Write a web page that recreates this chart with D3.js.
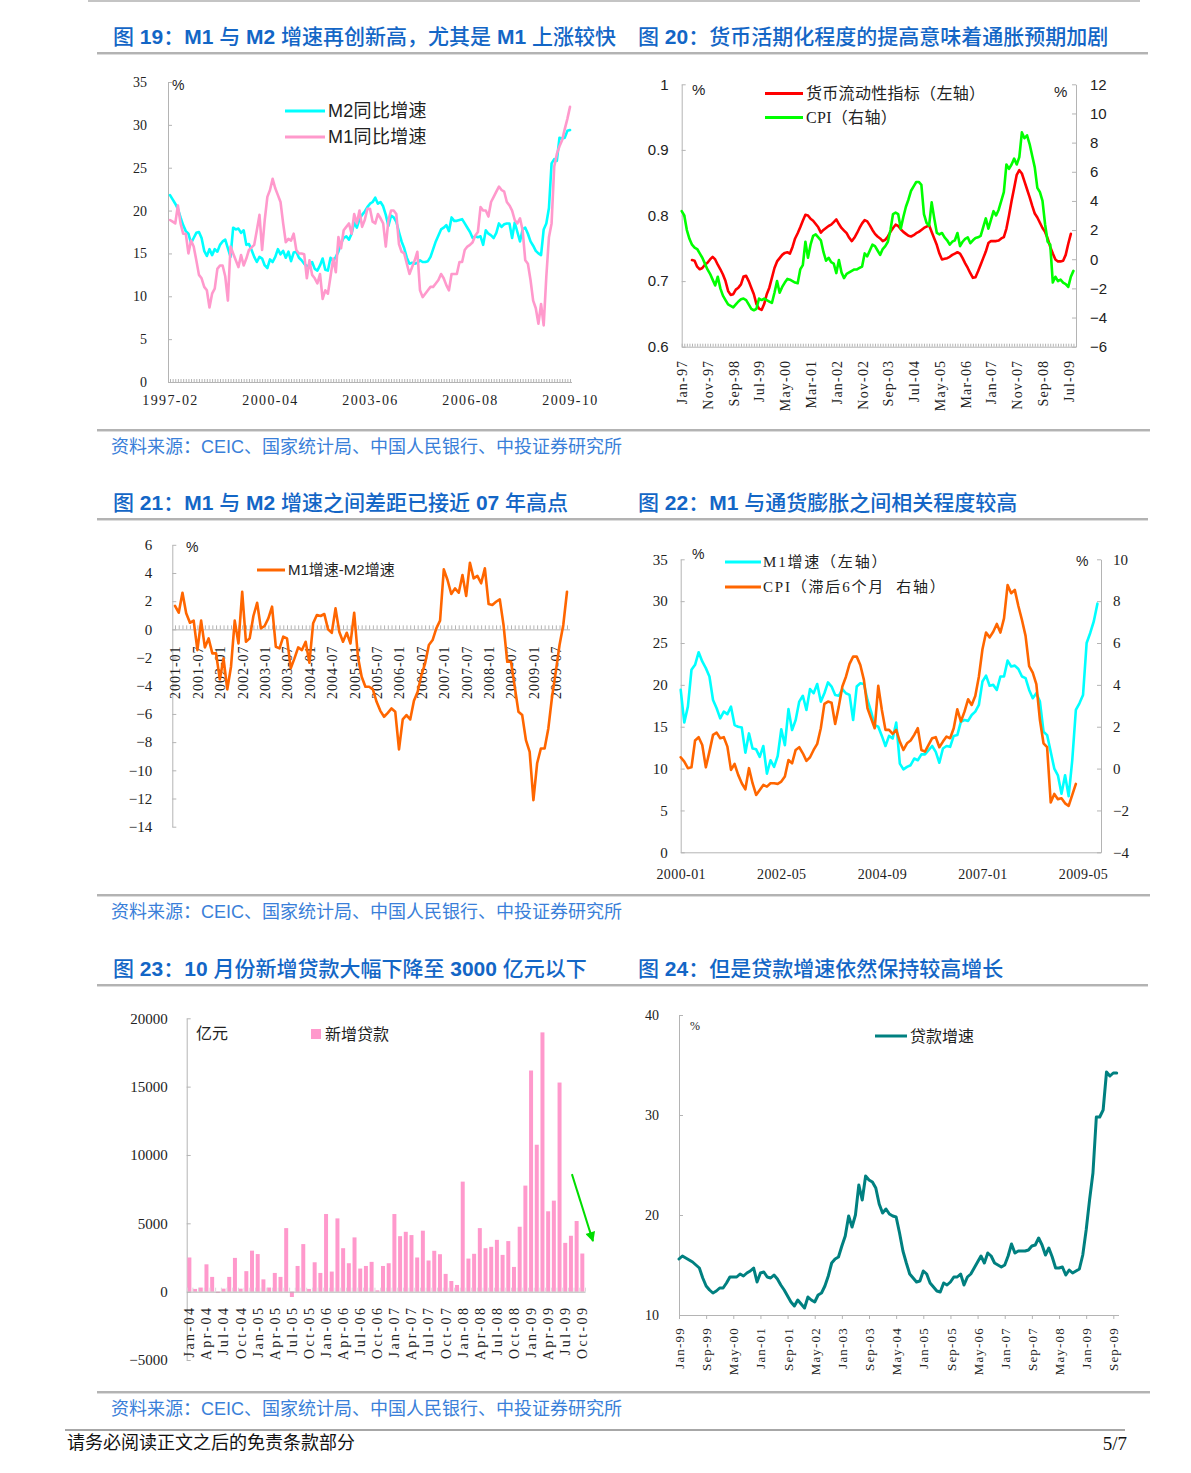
<!DOCTYPE html>
<html><head><meta charset="utf-8">
<script src="https://cdn.jsdelivr.net/npm/d3@7"></script>
<style>
html,body{margin:0;padding:0;background:#fff;}
svg{display:block;}
text{white-space:pre;}
</style></head><body>
<svg id="page" width="1191" height="1473"></svg>
<script>
// ---------------- DATA ----------------
// Chart 19: M1 / M2 YoY growth, monthly 1997-02 .. 2009-10
const c19XLabels = ["1997-02","2000-04","2003-06","2006-08","2009-10"];
const c19XLabelIdx = [0,38,76,114,152];
const c19YTicks = [0,5,10,15,20,25,30,35];
const c19M2 = [21.8,21.3,20.8,20.2,19.2,18.3,17.6,17.3,16.2,16.8,
  17.4,17.5,16.8,15.3,14.7,15.5,14.8,15.5,15.2,16.0,
  16.4,16.6,15.6,14.6,18.0,17.8,17.9,17.4,17.7,16.0,
  16.1,15.4,14.6,14.0,14.6,14.4,13.6,13.3,14.3,14.0,
  14.6,15.5,14.9,15.3,14.5,15.2,14.1,15.1,15.2,14.5,
  14.2,13.8,13.5,13.6,14.0,13.2,13.0,13.6,14.4,13.1,
  13.0,14.5,14.1,14.6,15.2,16.2,16.8,17.0,16.6,17.3,
  18.6,18.0,19.0,19.5,19.9,20.4,20.8,21.0,21.5,20.8,
  21.0,20.5,19.5,18.2,19.4,19.2,18.7,17.5,16.4,15.6,
  14.5,13.8,13.9,13.8,13.9,14.2,14.0,14.0,14.1,14.6,
  15.5,16.4,17.1,17.8,18.0,18.3,17.6,19.2,18.8,18.8,
  18.9,19.0,18.5,18.0,17.5,16.8,17.0,16.9,17.0,16.0,
  17.7,17.3,17.1,16.8,17.4,18.5,18.1,18.4,18.5,18.5,
  16.8,18.6,17.5,16.4,17.8,18.0,17.3,16.4,15.9,15.3,
  15.0,14.8,17.8,18.5,20.3,25.5,26.0,25.8,28.5,28.4,
  28.5,29.3,29.4];
const c19M1 = [18.9,18.7,18.5,20.6,18.5,17.3,17.3,15.0,16.5,15.8,
  14.2,12.5,12.1,11.1,10.7,8.7,10.3,10.9,13.2,13.6,
  13.6,12.3,9.5,15.8,15.0,14.2,13.4,14.8,13.6,14.4,
  15.4,15.7,16.0,17.7,19.5,15.4,18.9,21.6,22.4,23.7,
  22.6,21.8,21.0,18.5,16.3,16.7,16.5,17.3,15.4,15.0,
  15.0,14.9,12.1,14.2,12.5,12.1,11.5,12.6,9.7,10.7,
  10.3,12.3,14.4,12.8,16.9,15.6,17.7,18.1,18.5,17.3,
  19.6,18.5,20.0,18.1,18.9,20.2,20.2,18.7,18.5,19.6,
  19.1,18.5,15.8,18.9,20.0,20.0,19.6,16.1,15.2,15.0,
  13.8,12.6,13.4,14.2,15.2,10.7,9.9,10.3,10.7,11.1,
  11.1,11.5,11.9,12.6,12.1,11.3,10.7,12.6,12.6,12.6,
  14.0,14.0,15.4,15.8,16.0,16.3,17.1,17.5,20.4,20.0,
  20.0,19.3,21.0,21.6,22.2,22.8,22.4,22.2,21.0,20.6,
  20.0,18.9,18.5,19.1,17.7,14.2,13.8,11.9,9.5,8.6,
  6.8,9.1,6.6,12.3,16.9,18.5,25.1,26.6,27.5,28.2,
  29.5,30.7,32.1];

// Chart 20: money liquidity indicator (left) and CPI (right), monthly Jan-97 .. Oct-09
const c20XLabels = ["Jan-97","Nov-97","Sep-98","Jul-99","May-00","Mar-01","Jan-02","Nov-02",
  "Sep-03","Jul-04","May-05","Mar-06","Jan-07","Nov-07","Sep-08","Jul-09"];
const c20XLabelIdx = [0,10,20,30,40,50,60,70,80,90,100,110,120,130,140,150];
const c20Months = 154;
const c20LeftTicks = [0.6,0.7,0.8,0.9,1];
const c20LeftLabels = ["0.6","0.7","0.8","0.9","1"];
const c20RightTicks = [-6,-4,-2,0,2,4,6,8,10,12];
const c20RedStart = 4;
const c20Red = [0.732,0.731,0.722,0.718,0.72,0.725,0.728,0.733,0.737,0.733,
  0.725,0.718,0.71,0.7,0.685,0.679,0.68,0.687,0.69,0.695,
  0.707,0.708,0.7,0.69,0.68,0.665,0.658,0.656,0.665,0.68,
  0.69,0.705,0.72,0.73,0.735,0.74,0.743,0.744,0.742,0.752,
  0.765,0.773,0.782,0.792,0.801,0.8,0.795,0.792,0.787,0.782,
  0.774,0.778,0.781,0.784,0.786,0.79,0.794,0.787,0.781,0.777,
  0.773,0.766,0.761,0.766,0.773,0.781,0.788,0.793,0.791,0.785,
  0.778,0.772,0.768,0.765,0.761,0.763,0.768,0.775,0.781,0.786,
  0.784,0.779,0.775,0.772,0.769,0.768,0.77,0.773,0.775,0.778,
  0.781,0.783,0.785,0.775,0.765,0.755,0.742,0.733,0.734,0.735,
  0.737,0.74,0.742,0.744,0.742,0.735,0.727,0.72,0.712,0.705,
  0.706,0.715,0.725,0.735,0.745,0.758,0.761,0.761,0.761,0.762,
  0.765,0.767,0.78,0.8,0.822,0.842,0.862,0.869,0.864,0.852,
  0.84,0.828,0.815,0.803,0.797,0.789,0.781,0.775,0.765,0.752,
  0.742,0.733,0.73,0.73,0.731,0.74,0.757,0.772];
const c20Cpi = [3.3,3.0,2.0,1.4,1.0,0.8,0.7,0.4,0.1,-0.3,
  -0.7,-1.0,-1.4,-1.8,-1.2,-2.0,-2.5,-2.8,-3.1,-3.2,
  -3.3,-3.1,-2.9,-2.75,-2.7,-2.8,-3.1,-3.4,-3.5,-3.4,
  -2.7,-2.8,-2.7,-2.8,-2.9,-3.0,-2.3,-1.5,-2.3,-1.9,
  -1.6,-1.35,-1.4,-1.5,-1.6,-1.65,-0.7,-0.4,1.2,0.1,
  1.0,1.6,1.7,1.5,1.3,0.5,-0.1,0.1,-0.2,-0.3,
  -0.95,-0.05,-0.9,-1.3,-1.0,-0.9,-0.8,-0.7,-0.7,-0.6,
  -0.5,0.4,0.2,0.6,1.0,0.9,0.6,0.3,0.7,0.9,
  1.2,2.0,3.1,3.2,3.1,2.1,2.9,3.6,4.1,4.7,
  5.0,5.3,5.3,5.1,3.1,2.5,2.3,3.9,2.8,1.8,
  1.7,1.8,1.5,1.3,1.0,1.2,1.3,1.8,0.9,1.2,
  1.4,1.5,1.1,1.3,1.45,1.5,1.6,2.2,2.8,2.1,
  2.7,3.3,3.0,3.4,4.0,4.6,6.5,6.2,6.5,6.9,
  6.5,7.0,8.7,8.3,8.5,7.9,7.1,6.3,4.9,4.6,
  4.0,2.4,1.2,1.0,-1.6,-1.2,-1.5,-1.4,-1.6,-1.7,
  -1.9,-1.2,-0.8];

// Chart 21: M1 growth minus M2 growth, monthly 2001-01 .. 2009-10
const c21XLabels = ["2001-01","2001-07","2002-01","2002-07","2003-01","2003-07","2004-01","2004-07",
  "2005-01","2005-07","2006-01","2006-07","2007-01","2007-07","2008-01","2008-07","2009-01","2009-07"];
const c21XLabelIdx = [0,6,12,18,24,30,36,42,48,54,60,66,72,78,84,90,96,102];
const c21YTicks = [-14,-12,-10,-8,-6,-4,-2,0,2,4,6];
const c21Diff = [1.66,1.18,2.6,1.14,0.47,0.62,-1.47,0.62,-1.28,-0.64,
  -1.7,-1.7,-3.55,-2.06,-4.26,-2.65,0.62,-1.0,2.67,-0.88,
  -0.64,0.95,1.89,0.07,0.24,0.78,1.61,-1.23,-1.35,-0.52,
  -0.64,-2.77,-2.06,-1.28,-1.47,-0.88,-2.37,0.43,1.02,0.95,
  1.09,0,-0.24,1.49,-0.17,-0.88,-0.24,-1.0,1.18,-1.94,
  -3.36,-4.07,-4.07,-4.26,-5.14,-5.78,-6.2,-5.92,-5.61,-5.85,
  -8.52,-6.39,-6.08,-6.39,-5.07,-4.43,-3.24,-2.41,-1.11,-0.76,
  0.07,0.62,4.26,3.5,2.51,2.91,2.6,3.86,2.37,4.73,
  3.62,3.79,3.27,4.33,1.8,1.73,1.96,2.13,0.31,-2.3,
  -2.3,-4.07,-5.85,-6.08,-7.86,-8.69,-12.12,-9.5,-8.45,-8.45,
  -7.03,-4.78,-3.0,-1.11,0.31,2.67];

// Chart 22: M1 growth (left) and CPI lagged 6 months (right), monthly 2000-01 ..
const c22XLabels = ["2000-01","2002-05","2004-09","2007-01","2009-05"];
const c22XLabelIdx = [0,28,56,84,112];
const c22Months = 118;
const c22LeftTicks = [0,5,10,15,20,25,30,35];
const c22RightTicks = [-4,-2,0,2,4,6,8,10];
const c22M1 = [19.4,15.5,17.4,21.8,22.4,23.9,22.8,22.0,21.0,18.2,
  17.2,16.0,16.8,16.5,17.4,15.2,15.0,14.9,11.9,14.2,
  12.4,12.3,11.4,12.7,9.4,11.0,10.2,11.5,14.7,12.8,
  17.1,14.6,15.8,18.0,18.7,17.0,19.5,19.0,20.1,18.0,
  19.0,20.3,19.8,18.8,18.7,19.5,19.0,18.8,15.8,19.8,
  20.2,20.1,18.2,16.8,15.2,15.0,13.9,12.7,13.9,13.6,
  15.5,10.6,9.9,10.2,10.4,11.2,11.0,11.7,11.7,12.2,
  12.7,12.0,10.7,12.4,12.7,12.6,13.9,14.0,15.6,15.8,
  15.7,16.4,16.8,17.6,20.4,21.1,19.9,20.0,19.4,21.0,
  21.0,22.9,22.2,22.3,21.9,21.0,20.8,19.4,18.4,19.0,
  18.0,14.4,14.0,12.0,10.0,9.2,7.0,9.2,6.7,11.0,
  17.0,17.8,18.8,25.0,26.2,27.6,29.7];
const c22Cpi = [0.54,0.33,0.02,0.06,1.34,1.5,1.13,0.06,0.81,1.61,
  1.72,1.45,1.5,1.05,-0.06,0.22,-0.3,-0.7,-0.99,0.02,
  -0.7,-1.26,-1.02,-0.78,-0.86,-0.7,-0.7,-0.73,-0.62,-0.38,
  0.41,0.25,0.89,1.02,0.73,0.37,0.54,0.89,1.18,1.93,
  3.09,3.2,3.15,2.13,2.96,3.92,4.39,5.0,5.35,5.35,
  4.95,4.24,2.88,2.4,1.93,3.95,2.8,1.85,1.85,1.66,
  1.85,1.29,0.89,1.21,1.34,1.61,1.93,0.89,0.81,1.13,
  1.45,1.5,1.02,1.29,1.53,1.45,1.93,2.83,2.25,2.72,
  3.31,3.04,3.47,4.39,5.7,6.5,6.27,6.54,6.91,6.5,
  7.18,8.77,8.38,8.54,7.77,7.1,6.34,4.9,4.59,4.04,
  2.32,1.21,1.02,-1.62,-1.21,-1.46,-1.42,-1.66,-1.78,-1.26,-0.73];

// Chart 23: new loans (100m yuan), monthly Jan-04 .. Oct-09
const c23XLabels = ["Jan-04","Apr-04","Jul-04","Oct-04","Jan-05","Apr-05","Jul-05","Oct-05",
  "Jan-06","Apr-06","Jul-06","Oct-06","Jan-07","Apr-07","Jul-07","Oct-07",
  "Jan-08","Apr-08","Jul-08","Oct-08","Jan-09","Apr-09","Jul-09","Oct-09"];
const c23YTicks = [-5000,0,5000,10000,15000,20000];
const c23Loans = [2500,200,300,2000,1080,-100,220,1080,2470,220,
  1500,3000,2750,900,300,1370,1080,4650,-390,1880,
  3480,200,2150,1370,5680,1470,5360,3180,2080,3970,
  1690,1880,2180,100,1880,2080,5680,4060,4380,4140,
  2500,4460,2280,2990,2740,1300,780,490,8050,2420,
  2770,4650,3180,3280,3790,2690,3700,1810,4750,7760,
  16180,10750,18970,5880,6660,15300,3570,4090,5170,2790];
const c23ArrowFrom = [67.7, 8600];  // [month index, value]
const c23ArrowTo = [71.4, 3700];

// Chart 24: loan growth, monthly Jan-99 .. Oct-09
const c24XLabels = ["Jan-99","Sep-99","May-00","Jan-01","Sep-01","May-02","Jan-03","Sep-03","May-04",
  "Jan-05","Sep-05","May-06","Jan-07","Sep-07","May-08","Jan-09","Sep-09"];
const c24XLabelIdx = [0,8,16,24,32,40,48,56,64,72,80,88,96,104,112,120,128];
const c24YTicks = [10,20,30,40];
const c24Loan = [15.6,15.9,15.7,15.5,15.3,15.0,14.7,13.7,12.9,12.5,
  12.2,12.4,12.7,12.7,13.2,13.8,13.8,13.8,14.1,13.9,
  14.2,14.4,14.7,13.3,14.2,14.3,13.8,13.7,14.0,13.6,
  13.0,12.5,11.9,11.3,10.9,11.5,11.1,10.7,11.8,11.5,
  11.3,12.0,12.2,12.9,13.9,15.2,15.6,15.8,16.9,17.9,
  19.9,18.8,20.0,23.0,21.5,23.9,23.5,23.3,22.7,21.1,
  20.2,20.6,20.1,19.9,19.8,18.2,16.4,15.2,14.1,13.7,
  13.3,13.4,14.4,14.1,13.2,12.8,12.4,12.3,13.2,13.0,
  13.3,13.8,13.8,14.1,13.0,13.8,14.1,14.7,15.3,15.9,
  15.2,16.2,15.9,15.2,15.0,14.8,15.0,15.9,17.1,16.2,
  16.4,16.4,16.4,16.5,16.9,17.0,17.7,17.0,16.0,16.7,
  15.8,14.7,14.7,14.8,14.0,14.5,14.2,14.4,14.6,16.0,
  18.5,21.5,24.2,29.8,29.8,30.5,34.3,33.9,34.2,34.2];

const titles = [
  "图 19：M1 与 M2 增速再创新高，尤其是 M1 上涨较快",
  "图 20：货币活期化程度的提高意味着通胀预期加剧",
  "图 21：M1 与 M2 增速之间差距已接近 07 年高点",
  "图 22：M1 与通货膨胀之间相关程度较高",
  "图 23：10 月份新增贷款大幅下降至 3000 亿元以下",
  "图 24：但是贷款增速依然保持较高增长"
];
const sourceText = "资料来源：CEIC、国家统计局、中国人民银行、中投证券研究所";
const footerText = "请务必阅读正文之后的免责条款部分";
const pageText = "5/7";

// ---------------- DRAWING ----------------
const svg = d3.select("#page");
const SERIF = "'Liberation Serif','DejaVu Serif','Noto Sans CJK SC',serif";
const SANS = "'Liberation Sans',Arial,'Noto Sans CJK SC',sans-serif";
const CJK = "'Noto Sans CJK SC','Liberation Sans',sans-serif";
const AXIS = "#b4b4b4";
const TXT = "#222";
const BLUE = "#1366c6";
const minusFmt = d => (d < 0 ? "\u2212" + Math.abs(d) : String(d));

function mixedText(sel, str, latinW, cjkW, latinFont) {
  const runs = str.match(/[\x00-\x7F]+|[^\x00-\x7F]+/g);
  runs.forEach(r => {
    const ascii = /^[\x00-\x7F]+$/.test(r);
    sel.append("tspan").text(r)
      .attr("font-family", ascii ? (latinFont || SANS) : CJK)
      .attr("font-weight", ascii ? latinW : cjkW);
  });
  return sel;
}
function hline(x1, x2, y) {
  svg.append("line").attr("x1", x1).attr("x2", x2).attr("y1", y).attr("y2", y)
    .attr("stroke", "#9a9a9a").attr("stroke-width", 1.6);
  svg.append("line").attr("x1", x1).attr("x2", x2).attr("y1", y + 1.5).attr("y2", y + 1.5)
    .attr("stroke", "#dcdcdc").attr("stroke-width", 1);
}
function styleAx(g, font, size, color) {
  g.attr("font-family", font).attr("font-size", size);
  g.select(".domain").attr("stroke", AXIS);
  g.selectAll(".tick line").attr("stroke", AXIS);
  g.selectAll(".tick text").attr("fill", color || TXT);
  return g;
}
function rotLabels(g, pad, ls) {
  g.selectAll(".tick text").attr("transform", "rotate(-90)").attr("text-anchor", "end")
    .attr("x", -pad).attr("y", 0).attr("dy", "0.35em");
  if (ls) g.attr("letter-spacing", ls);
}
function drawLine(g, data, x, y, offset, color, width) {
  g.append("path").datum(data)
    .attr("fill", "none").attr("stroke", color).attr("stroke-width", width)
    .attr("stroke-linejoin", "round").attr("stroke-linecap", "round")
    .attr("d", d3.line().x((d, i) => x(i + offset)).y(d => y(d)));
}
function legendLine(x1, x2, y, color, label, tx, font, size, w, ls) {
  svg.append("line").attr("x1", x1).attr("x2", x2).attr("y1", y).attr("y2", y)
    .attr("stroke", color).attr("stroke-width", w || 3);
  const t = svg.append("text").attr("x", tx).attr("y", y).attr("dy", "0.36em")
    .attr("font-size", size).attr("fill", TXT);
  if (ls) t.attr("letter-spacing", ls);
  mixedText(t, label, "normal", "normal", font);
}
function note(x, y, str, size, font) {
  svg.append("text").attr("x", x).attr("y", y).attr("font-size", size || 13)
    .attr("font-family", font || SANS).attr("fill", TXT).text(str);
}

// page frame lines
svg.append("line").attr("x1", 88).attr("x2", 1140).attr("y1", 1).attr("y2", 1)
  .attr("stroke", "#b0b0b0").attr("stroke-width", 1.5);
[53, 519, 985].forEach(y => hline(97, 1148, y));
[430, 895, 1392].forEach(y => hline(97, 1150, y));
svg.append("line").attr("x1", 65).attr("x2", 1125).attr("y1", 1430).attr("y2", 1430)
  .attr("stroke", "#8a8a8a").attr("stroke-width", 1.6);

// titles
const titlePos = [[113, 44], [638, 44], [113, 510], [638, 510], [113, 976], [638, 976]];
titles.forEach((t, i) => {
  const el = svg.append("text").attr("x", titlePos[i][0]).attr("y", titlePos[i][1])
    .attr("font-size", 21).attr("fill", BLUE);
  mixedText(el, t, "bold", "500");
});
// sources
[453, 918, 1415].forEach(y => {
  const el = svg.append("text").attr("x", 111).attr("y", y).attr("font-size", 18)
    .attr("fill", "#3a7fd9");
  mixedText(el, sourceText, "normal", "normal");
});
// footer
svg.append("text").attr("x", 67).attr("y", 1449).attr("font-size", 18)
  .attr("font-family", CJK).attr("fill", "#111").text(footerText);
svg.append("text").attr("x", 1127).attr("y", 1450).attr("font-size", 19).attr("text-anchor", "end")
  .attr("font-family", SERIF).attr("fill", "#111").text(pageText);

// ---------- Chart 19 ----------
(function () {
  const n = c19M2.length;
  const x = d3.scaleLinear().domain([0, n - 1]).range([170, 570]);
  const y = d3.scaleLinear().domain([0, 35]).range([382, 82]);
  const g = svg.append("g");
  styleAx(g.append("g").attr("transform", "translate(168,0)")
    .call(d3.axisLeft(y).tickValues(c19YTicks).tickSize(-4).tickSizeOuter(0).tickPadding(21)), SERIF, 14);
  const mt = g.append("g").attr("transform", "translate(0,382)")
    .call(d3.axisBottom(x).tickValues(d3.range(n)).tickSize(-3).tickSizeOuter(0).tickFormat(""));
  styleAx(mt, SERIF, 14);
  mt.select(".domain").attr("d", "M168,0.5H572");
  const xl = g.append("g").attr("transform", "translate(0,382)")
    .call(d3.axisBottom(x).tickValues(c19XLabelIdx).tickSize(0).tickPadding(13)
      .tickFormat((d, i) => c19XLabels[i]));
  styleAx(xl, SERIF, 14); xl.select(".domain").remove(); xl.attr("letter-spacing", 1.4);
  drawLine(g, c19M2, x, y, 0, "#00ffff", 2.6);
  drawLine(g, c19M1, x, y, 0, "#ff99cc", 2.6);
  note(172, 90, "%", 14);
  legendLine(285, 325, 111, "#00ffff", "M2同比增速", 328, SANS, 18, 3, 0.3);
  legendLine(285, 325, 137, "#ff99cc", "M1同比增速", 328, SANS, 18, 3, 0.3);
})();

// ---------- Chart 20 ----------
(function () {
  const x = d3.scaleLinear().domain([0, c20Months - 1]).range([681.7, 1076]);
  const yl = d3.scaleLinear().domain([0.6, 1]).range([346.7, 84.3]);
  const yr = d3.scaleLinear().domain([-6, 12]).range([346.7, 84.3]);
  const g = svg.append("g");
  styleAx(g.append("g").attr("transform", "translate(681.7,0)")
    .call(d3.axisLeft(yl).tickValues(c20LeftTicks).tickSize(-4).tickSizeOuter(0).tickPadding(13)
      .tickFormat((d, i) => c20LeftLabels[i])), SANS, 15);
  styleAx(g.append("g").attr("transform", "translate(1076,0)")
    .call(d3.axisRight(yr).tickValues(c20RightTicks).tickSize(-4).tickSizeOuter(0).tickPadding(14)), SANS, 15);
  styleAx(g.append("g").attr("transform", "translate(0,346.7)")
    .call(d3.axisBottom(x).tickValues(d3.range(c20Months)).tickSize(-3).tickSizeOuter(0).tickFormat("")), SERIF, 14);
  const xl = g.append("g").attr("transform", "translate(0,346.7)")
    .call(d3.axisBottom(x).tickValues(c20XLabelIdx).tickSize(0).tickFormat((d, i) => c20XLabels[i]));
  styleAx(xl, SERIF, 14); xl.select(".domain").remove(); rotLabels(xl, 13, 1.2);
  drawLine(g, c20Red, x, yl, c20RedStart, "#ff0000", 2.6);
  drawLine(g, c20Cpi, x, yr, 0, "#00ff00", 2.6);
  note(692, 95, "%", 15);
  note(1054, 97, "%", 15);
  legendLine(765, 803, 93.5, "#ff0000", "货币流动性指标（左轴）", 806, SERIF, 16, 3, 0.3);
  legendLine(765, 803, 117.5, "#00ff00", "CPI（右轴）", 806, SERIF, 16, 3, 0.3);
})();

// ---------- Chart 21 ----------
(function () {
  const x = d3.scaleLinear().domain([0, c21Diff.length - 1]).range([175, 567]);
  const y = d3.scaleLinear().domain([-14, 6]).range([826.7, 544.8]);
  const g = svg.append("g");
  styleAx(g.append("g").attr("transform", "translate(172.3,0)")
    .call(d3.axisLeft(y).tickValues(c21YTicks).tickSize(-4).tickSizeOuter(0).tickPadding(20)
      .tickFormat(minusFmt)), SERIF, 15);
  const mt = g.append("g").attr("transform", `translate(0,${y(0)})`)
    .call(d3.axisBottom(x).tickValues(d3.range(c21Diff.length)).tickSize(-4).tickSizeOuter(0).tickFormat(""));
  styleAx(mt, SERIF, 14); mt.select(".domain").attr("d", "M172.3,0.5H570");
  const xl = g.append("g").attr("transform", `translate(0,${y(0)})`)
    .call(d3.axisBottom(x).tickValues(c21XLabelIdx).tickSize(0).tickFormat((d, i) => c21XLabels[i]));
  styleAx(xl, SERIF, 14); xl.select(".domain").remove(); rotLabels(xl, 16, 1);
  drawLine(g, c21Diff, x, y, 0, "#ff6600", 2.6);
  note(186, 552, "%", 14);
  legendLine(257, 285, 570, "#ff6600", "M1增速-M2增速", 288, SANS, 15);
})();

// ---------- Chart 22 ----------
(function () {
  const x = d3.scaleLinear().domain([0, c22Months - 1]).range([680.7, 1101]);
  const yl = d3.scaleLinear().domain([0, 35]).range([852.3, 559.3]);
  const yr = d3.scaleLinear().domain([-4, 10]).range([852.3, 559.3]);
  const g = svg.append("g");
  styleAx(g.append("g").attr("transform", "translate(680.7,0)")
    .call(d3.axisLeft(yl).tickValues(c22LeftTicks).tickSize(-4).tickSizeOuter(0).tickPadding(13)), SERIF, 15);
  styleAx(g.append("g").attr("transform", "translate(1101,0)")
    .call(d3.axisRight(yr).tickValues(c22RightTicks).tickSize(-4).tickSizeOuter(0).tickPadding(12)
      .tickFormat(minusFmt)), SERIF, 15);
  const xl = g.append("g").attr("transform", "translate(0,852.3)")
    .call(d3.axisBottom(x).tickValues(c22XLabelIdx).tickSize(0).tickSizeOuter(0).tickPadding(17)
      .tickFormat((d, i) => c22XLabels[i]));
  styleAx(xl, SERIF, 14); xl.attr("letter-spacing", 0.4);
  drawLine(g, c22M1, x, yl, 0, "#00ffff", 2.6);
  drawLine(g, c22Cpi, x, yr, 0, "#ff6600", 2.6);
  note(692, 559, "%", 14);
  note(1076, 566, "%", 14);
  legendLine(725, 761, 562, "#00ffff", "M1增速（左轴）", 763, SERIF, 15, 3, 1.8);
  legendLine(725, 761, 587, "#ff6600", "CPI（滞后6个月  右轴）", 763, SERIF, 15, 3, 1.8);
})();

// ---------- Chart 23 ----------
(function () {
  const n = c23Loans.length;
  const xb = d3.scaleBand().domain(d3.range(n)).range([186.7, 585]).paddingInner(0.3).paddingOuter(0.12);
  const xi = d3.scaleLinear().domain([0, n]).range([186.7, 585]);
  const y = d3.scaleLinear().domain([-5000, 20000]).range([1360, 1018.3]);
  const g = svg.append("g");
  styleAx(g.append("g").attr("transform", "translate(186.7,0)")
    .call(d3.axisLeft(y).tickValues(c23YTicks).tickSize(-4).tickSizeOuter(0).tickPadding(19)
      .tickFormat(minusFmt)), SERIF, 15);
  g.append("g").selectAll("rect").data(c23Loans).join("rect")
    .attr("x", (d, i) => xb(i)).attr("width", xb.bandwidth())
    .attr("y", d => y(Math.max(0, d))).attr("height", d => Math.abs(y(d) - y(0)))
    .attr("fill", "#ff99cc");
  const mt = g.append("g").attr("transform", `translate(0,${y(0)})`)
    .call(d3.axisBottom(xi).tickValues(d3.range(n + 1)).tickSize(-4).tickSizeOuter(0).tickFormat(""));
  styleAx(mt, SERIF, 14);
  mt.selectAll(".tick line").attr("stroke", "#d8d8d8");
  const xl = g.append("g").attr("transform", `translate(0,${y(0)})`)
    .call(d3.axisBottom(xb).tickValues(d3.range(0, n, 3)).tickSize(0)
      .tickFormat((d) => c23XLabels[d / 3]));
  styleAx(xl, SERIF, 14); xl.select(".domain").remove(); rotLabels(xl, 14, 2.4);
  // arrow annotation
  const defs = svg.append("defs");
  defs.append("marker").attr("id", "arrowG").attr("viewBox", "0 0 10 10").attr("refX", 9).attr("refY", 5)
    .attr("markerWidth", 6).attr("markerHeight", 5).attr("orient", "auto-start-reverse")
    .attr("markerUnits", "strokeWidth")
    .append("path").attr("d", "M0,0L10,5L0,10z").attr("fill", "#00dd00");
  g.append("line")
    .attr("x1", xi(c23ArrowFrom[0])).attr("y1", y(c23ArrowFrom[1]))
    .attr("x2", xi(c23ArrowTo[0])).attr("y2", y(c23ArrowTo[1]))
    .attr("stroke", "#00dd00").attr("stroke-width", 2).attr("marker-end", "url(#arrowG)");
  note(196, 1039, "亿元", 16, CJK);
  svg.append("rect").attr("x", 311).attr("y", 1029).attr("width", 10).attr("height", 10).attr("fill", "#ff99cc");
  note(325, 1040, "新增贷款", 16, CJK);
})();

// ---------- Chart 24 ----------
(function () {
  const n = c24Loan.length;
  const x = d3.scaleLinear().domain([0, n - 1]).range([679, 1116.7]);
  const y = d3.scaleLinear().domain([10, 40]).range([1315, 1015]);
  const g = svg.append("g");
  styleAx(g.append("g").attr("transform", "translate(679,0)")
    .call(d3.axisLeft(y).tickValues(c24YTicks).tickSize(-4).tickSizeOuter(0).tickPadding(20)), SERIF, 14);
  const xl = g.append("g").attr("transform", "translate(0,1315)")
    .call(d3.axisBottom(x).tickValues(c24XLabelIdx).tickSize(4).tickSizeOuter(0)
      .tickFormat((d, i) => c24XLabels[i]));
  styleAx(xl, SERIF, 13); xl.select(".domain").attr("d", "M679,0.5H1119"); rotLabels(xl, 12, 1.2);
  drawLine(g, c24Loan, x, y, 0, "#008080", 3);
  note(690, 1030, "%", 12, SERIF);
  legendLine(875, 907, 1036, "#008080", "贷款增速", 910, SANS, 16);
})();
</script>
</body></html>
